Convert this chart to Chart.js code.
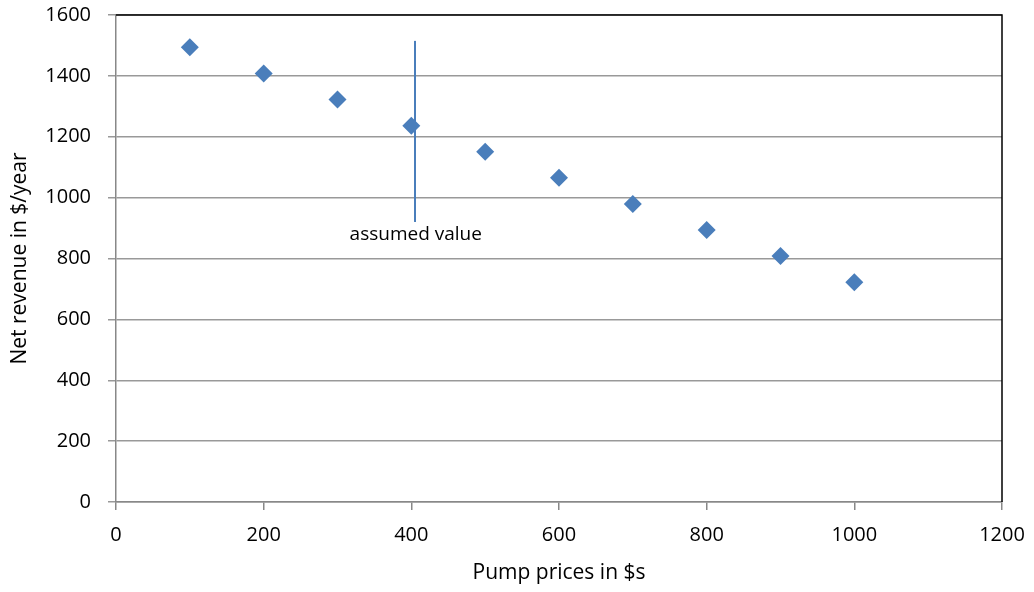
<!DOCTYPE html>
<html>
<head>
<meta charset="utf-8">
<script src="https://cdn.jsdelivr.net/npm/chart.js@4/dist/chart.umd.min.js"></script>
<style>
  html, body { margin: 0; padding: 0; background: #fff; }
  #wrap { width: 1034px; height: 592px; }
</style>
</head>
<body>
<div id="wrap"><canvas id="chart1"></canvas></div>
<script>
// pump price ($) vs net revenue ($/year)
const pumpPrices = [100, 200, 300, 400, 500, 600, 700, 800, 900, 1000];
const netRevenue = [1494, 1408, 1322, 1236, 1151, 1065, 979, 894, 808, 722];

// vertical marker line for the assumed price
const markerX = [405, 405];
const markerY = [920, 1515];
const markerLabel = 'assumed value';
const markerLabelPos = [406, 880];

const blue = '#4a7ebb';

const frame = {
    id: 'frame',
    afterDraw(chart) {
        const { ctx, chartArea: a, scales } = chart;
        ctx.save();
        ctx.strokeStyle = '#000';
        ctx.lineWidth = 1.5;
        ctx.beginPath();
        ctx.moveTo(a.left, a.top);
        ctx.lineTo(a.right, a.top);
        ctx.lineTo(a.right, a.bottom);
        ctx.stroke();
        ctx.font = '19px "Open Sans"';
        ctx.fillStyle = '#000';
        ctx.textAlign = 'center';
        ctx.textBaseline = 'middle';
        ctx.fillText(markerLabel,
            scales.x.getPixelForValue(markerLabelPos[0]),
            scales.y.getPixelForValue(markerLabelPos[1]));
        ctx.restore();
    }
};

const plain = v => String(v);

new Chart('chart1', {
    type: 'scatter',
    data: {
        datasets: [{
            label: 'Net revenue',
            data: pumpPrices.map((x, i) => ({ x: x, y: netRevenue[i] })),
            pointStyle: 'rectRot',
            pointRadius: 9,
            pointHoverRadius: 9,
            backgroundColor: blue,
            borderColor: blue,
            borderWidth: 0
        }, {
            label: 'assumed',
            data: markerX.map((x, i) => ({ x: x, y: markerY[i] })),
            showLine: true,
            pointRadius: 0,
            borderColor: blue,
            borderWidth: 2
        }]
    },
    options: {
        responsive: true,
        maintainAspectRatio: false,
        animation: false,
        layout: { padding: { top: 15, right: 32, left: 4, bottom: 0 } },
        plugins: {
            legend: { display: false },
            tooltip: { enabled: false }
        },
        scales: {
            x: {
                type: 'linear',
                min: 0,
                max: 1200,
                afterFit: s => { s.height = 90; s.paddingLeft = 0; s.paddingRight = 0; },
                ticks: { stepSize: 200, callback: plain, color: '#000', font: { family: 'Open Sans', size: 20 }, padding: 13, maxRotation: 0 },
                grid: { drawOnChartArea: false, drawTicks: true, tickLength: 8, color: '#888', lineWidth: 1.5 },
                border: { color: '#888', width: 1.5 },
                title: { display: true, text: 'Pump prices in $s', color: '#000', font: { family: 'Open Sans', size: 21 }, padding: { top: 13, bottom: 6 } }
            },
            y: {
                min: 0,
                max: 1600,
                afterFit: s => { s.width = 112; s.paddingTop = 0; s.paddingBottom = 0; },
                ticks: { stepSize: 200, callback: plain, color: '#000', font: { family: 'Open Sans', size: 20 }, padding: 17 },
                grid: { color: '#999', lineWidth: 1.5, tickLength: 8 },
                border: { color: '#888', width: 1.5 },
                title: { display: true, text: 'Net revenue in $/year', color: '#000', font: { family: 'Open Sans', size: 21 }, padding: { top: 3, bottom: 12 } }
            }
        }
    },
    plugins: [frame]
});
</script>
</body>
</html>
